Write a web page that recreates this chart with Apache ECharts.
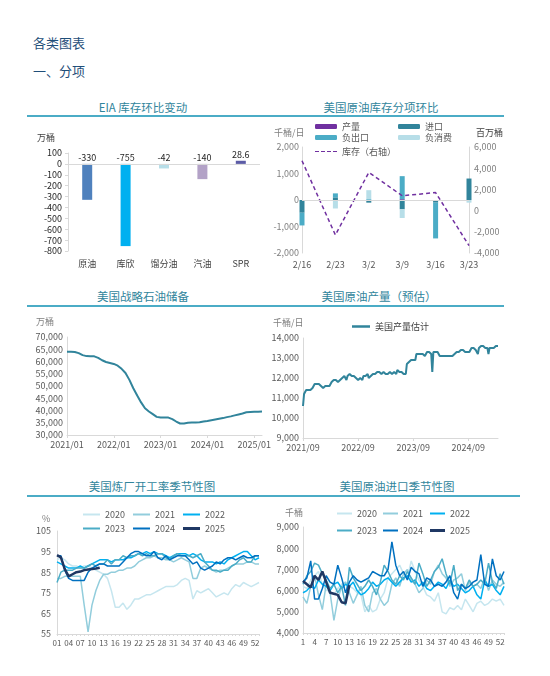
<!DOCTYPE html>
<html><head><meta charset="utf-8">
<script src="https://cdn.jsdelivr.net/npm/echarts@6/dist/echarts.min.js"></script>
<style>
html,body{margin:0;padding:0;background:#fff;width:550px;height:676px;overflow:hidden;font-family:"Noto Sans CJK SC","Noto Sans",sans-serif;}
.h{position:absolute;left:33px;font-size:13px;line-height:13px;color:#1f4e79;}
.t{position:absolute;font-size:11.5px;line-height:12px;color:#31859c;transform:translateX(-50%);white-space:nowrap;}
.u{position:absolute;height:2px;background:#4bacc6;}
.c{position:absolute;}
</style></head><body>
<div class="h" style="top:36px">各类图表</div>
<div class="h" style="top:64px">一、分项</div>

<div class="t" style="left:143px;top:101px">EIA 库存环比变动</div>
<div class="t" style="left:381px;top:101px">美国原油库存分项环比</div>
<div class="u" style="left:27px;top:115px;width:477px"></div>

<div class="t" style="left:143px;top:290px">美国战略石油储备</div>
<div class="t" style="left:379px;top:290px">美国原油产量（预估）</div>
<div class="u" style="left:27px;top:305px;width:477px"></div>

<div class="t" style="left:152px;top:480px">美国炼厂开工率季节性图</div>
<div class="t" style="left:397px;top:480px">美国原油进口季节性图</div>
<div class="u" style="left:27px;top:495px;width:493px"></div>

<div id="c1" class="c" style="left:0;top:120px;width:275px;height:160px"></div>
<div id="c2" class="c" style="left:270px;top:120px;width:280px;height:160px"></div>
<div id="c3" class="c" style="left:0;top:310px;width:275px;height:150px"></div>
<div id="c4" class="c" style="left:270px;top:310px;width:280px;height:150px"></div>
<div id="c5" class="c" style="left:0;top:500px;width:275px;height:170px"></div>
<div id="c6" class="c" style="left:270px;top:500px;width:280px;height:170px"></div>

<script>
// ---------- DATA ----------
// 1. EIA 库存环比变动 (万桶)
const eiaCats = ['原油', '库欣', '馏分油', '汽油', 'SPR'];
const eiaVals = [-330, -755, -42, -140, 28.6];

// 2. 美国原油库存分项环比
const compDates = ['2/16', '2/23', '3/2', '3/9', '3/16', '3/23'];
const compProd = [0, 0, 0, 30, 0, 0];
const compImport = [-480, 100, -100, -350, -100, 810];
const compExport = [-480, 150, 30, 870, -1350, 0];
const compConsume = [0, -320, 340, -330, 0, -100];
const compStock = [4700, -2300, 3600, 1400, 1700, -3300];

// 3. 美国战略石油储备 (万桶), monthly 2021/01 - 2025/03
const sprStartYear = 2021;
const sprVals = [
  64000, 64000, 63900, 63400, 62600, 62200, 62100, 62100, 61500, 60500, 59800, 59400,
  59000, 58300, 57000, 55300, 52500, 49100, 46100, 43300, 40900, 39600, 38500, 37400,
  37100, 37100, 37100, 36500, 35500, 34700, 34700, 35000, 35100, 35100, 35200, 35500,
  35700, 36000, 36300, 36600, 36900, 37300, 37600, 38000, 38400, 38800, 39300, 39400,
  39500, 39500, 39600
];

// 4. 美国原油产量估计 (千桶/日), weekly from 2021/09
const prodStart = '2021-09-10';
const prodVals = [
  10600,11200,11300,11400,11300,11400,11500,11400,11500,11500,
  11600,11700,11700,11700,11800,11700,11700,11600,11500,11500,
  11600,11600,11600,11600,11600,11600,11700,11800,11800,11900,
  11900,11900,11900,11800,11900,11900,11900,12000,12000,12100,
  12000,11900,12100,12100,12200,12100,12100,12100,12100,12100,
  12000,12000,11900,11900,12000,11900,11900,12100,12100,12100,
  12100,12200,12000,12000,12100,12200,12200,12300,12200,12200,
  12300,12300,12300,12300,12200,12300,12300,12200,12200,12300,
  12200,12200,12300,12300,12200,12200,12300,12300,12200,12400,
  12300,12300,12200,12300,12200,12200,12300,12200,12700,12800,
  12800,12800,12900,12900,12900,12900,12900,13200,13200,13200,
  13200,13200,13200,13200,13200,13100,13100,13300,13200,13300,
  13300,13200,12300,13300,13300,13300,13300,13300,13200,13100,
  13100,13100,13100,13100,13100,13100,13100,13100,13100,13100,
  13100,13100,13200,13200,13200,13300,13300,13300,13400,13400,
  13300,13400,13400,13300,13300,13300,13200,13300,13400,13500,
  13500,13500,13500,13400,13400,13200,13500,13600,13600,13600,
  13600,13500,13500,13500,13500,13200,13500,13500,13500,13500,
  13500,13500,13600,13600,13600
];

// 5. 美国炼厂开工率季节性 (%)
const years = ['2020', '2021', '2022', '2023', '2024', '2025'];
const refWeeks = ['01','02','03','04','05','06','07','08','09','10','11','12','13','14','15','16','17','18','19','20','21','22','23','24','25','26','27','28','29','30','31','32','33','34','35','36','37','38','39','40','41','42','43','44','45','46','47','48','49','50','51','52','53'];
const ref2020 = [91,92,91,89,88,88,87,88,88,87,86,85,84,82,76,68,68,70,67,69,72,72,73,74,74,75,76,77,78,78,78,79,81,82,81,72,76,75,76,77,75,73,74,75,74,77,79,78,80,79,78,79,80];
const ref2021 = [82,82,83,83,83,83,83,69,56,69,76,81,84,84,85,85,86,86,87,87,88,90,91,92,92,93,92,92,91,91,90,91,92,91,90,82,82,87,88,87,86,85,86,86,87,88,89,89,89,90,90,89,89];
const ref2022 = [90,89,88,87,87,87,88,87,88,89,90,91,91,91,90,91,91,91,92,92,93,94,94,95,94,95,94,94,93,92,93,94,94,94,93,94,93,91,90,90,90,89,90,89,91,92,93,94,95,95,93,91,92];
const ref2023 = [80,85,86,86,86,87,87,87,88,89,88,89,89,91,89,91,91,93,92,93,93,94,93,94,93,93,94,94,92,91,93,94,93,93,93,92,93,94,90,88,86,86,85,86,86,88,89,91,92,90,90,93,93];
const ref2024 = [93,93,86,82,81,81,81,81,85,87,88,89,89,88,88,88,88,90,92,94,95,95,94,93,93,95,92,91,93,91,92,93,93,93,91,89,90,87,86,87,88,90,89,91,92,92,91,92,93,92,92,93,93];
const ref2025 = [93.3,92.2,86.5,83,84,85,85.3,86,86.3,86.5,86.8,87.2];

// 6. 美国原油进口季节性 (千桶)
const impWeeks = ['1','2','3','4','5','6','7','8','9','10','11','12','13','14','15','16','17','18','19','20','21','22','23','24','25','26','27','28','29','30','31','32','33','34','35','36','37','38','39','40','41','42','43','44','45','46','47','48','49','50','51','52','53'];
const imp2020 = [6200,6100,6500,6700,6900,6300,6000,6000,5800,6100,6300,6400,6200,6100,5900,5800,5000,5300,5000,5100,5600,5900,6600,6800,7000,7200,6800,6600,7400,6900,6500,6200,5800,5700,5500,5900,5000,4900,5200,5100,5300,5100,5600,5300,5000,5400,5500,5300,5400,5600,5500,5600,5300];
const imp2021 = [5700,5400,6200,6700,5800,5100,6300,5900,4600,5600,6200,6400,5900,5400,5800,6200,5300,5000,5900,6100,5600,5300,5500,6300,6600,6200,6800,7000,6500,6300,5900,6100,6500,6300,6900,7200,6800,6600,6200,6500,6600,6800,6000,6400,6200,6300,6100,6600,6000,6500,6300,6200,6400];
const imp2022 = [5900,6000,6200,6100,6500,6300,6200,6000,6300,6400,6100,6300,6200,6400,6000,5800,5900,6100,6400,6200,6300,6500,6600,6400,6200,6400,6600,6700,6400,6500,6200,6400,6100,6000,6200,6400,6300,6100,6500,6200,6300,6100,5900,6000,6200,5800,5600,6500,6200,6300,6000,5800,6200];
const imp2023 = [6300,6700,6900,7300,7200,6800,6500,6100,6300,5900,6200,5300,7100,6600,6300,6000,6200,6500,6200,5800,6400,7200,6900,6500,6300,6700,6500,6900,6600,6300,7300,6800,6200,6500,6900,7100,7500,6800,6300,7200,6000,6300,6100,6500,6200,6300,6500,6300,7300,6400,6100,6800,6300];
const imp2024 = [6400,6600,7400,5600,5600,6100,6700,6400,6300,7200,6600,5900,6400,6700,6500,6400,6500,6600,6900,6800,6700,6700,7000,8300,7200,6700,6900,6500,7100,6900,6800,6200,6600,6500,6200,6300,6200,6400,6700,5900,5600,6300,6100,6200,6400,6500,7700,6300,6200,7500,6700,6500,6900];
const imp2025 = [6450,6300,6150,6700,6500,6900,6400,5900,5850,5800,5450,5400,6250];

// ---------- STYLE ----------
const FONT = '"Noto Sans CJK SC","Noto Sans",sans-serif';
const eiaColors = ['#4f81bd', '#00b0f0', '#b7dee8', '#b3a2c7', '#5c5ca6'];
const yearColors = ['#c6e6ef', '#92cddc', '#00b0f0', '#4bacc6', '#0070c0', '#1f3864'];
const yearWidths = [1.5, 1.5, 1.5, 1.5, 1.5, 2.5];
const AX = '#d9d9d9';
const fmt = v => Number(v).toLocaleString('en-US');
const DASH_ICON = 'path://M0,0h4v1h-4zM6,0h4v1h-4zM12,0h4v1h-4zM18,0h4v1h-4z';

function mk(id, opt) {
  const c = echarts.init(document.getElementById(id), null, { renderer: 'canvas' });
  opt.animation = false;
  opt.textStyle = { fontFamily: FONT };
  c.setOption(opt);
}
function gtext(txt, left, top, color) {
  return { type: 'text', left: left, top: top, style: { text: txt, fontSize: 9, fill: color || '#7f7f7f', fontFamily: FONT } };
}
function grid(l, r, t, b) {
  return { left: l, right: r, top: t, bottom: b, containLabel: false, outerBoundsMode: 'none' };
}
const zeroLine = { silent: true, symbol: 'none', label: { show: false }, lineStyle: { color: AX, type: 'solid', width: 1 }, data: [{ yAxis: 0 }] };

// ---------- Chart 1 ----------
mk('c1', {
  grid: grid(68, 15, 33, 29),
  graphic: [gtext('万桶', 37, 13, '#404040')],
  xAxis: {
    type: 'category', data: eiaCats,
    axisLine: { show: false, onZero: false },
    axisTick: { show: false },
    axisLabel: { margin: 8, fontSize: 9, color: '#404040' }
  },
  yAxis: {
    type: 'value', min: -800, max: 100, interval: 100,
    axisLine: { show: true, lineStyle: { color: AX } },
    axisTick: { show: true, length: 3, lineStyle: { color: AX } },
    splitLine: { show: false },
    axisLabel: { fontSize: 9, color: '#262626', margin: 6 }
  },
  series: [{
    type: 'bar', barWidth: 10,
    data: eiaVals.map((v, i) => ({ value: v, itemStyle: { color: eiaColors[i] } })),
    label: { show: true, position: 'top', distance: 2, fontSize: 9, color: '#262626' },
    markLine: zeroLine
  }]
});

// ---------- Chart 2 ----------
const barS = (name, data, color) => ({ name: name, type: 'bar', stack: 'a', barWidth: 5, data: data, itemStyle: { color: color } });
const legTxt = { fontSize: 9, color: '#595959' };
const s2 = [
  barS('产量', compProd, '#7030a0'),
  barS('进口', compImport, '#31849b'),
  barS('负出口', compExport, '#4bacc6'),
  barS('负消费', compConsume, '#b7dee8'),
  { name: '库存（右轴）', type: 'line', yAxisIndex: 1, data: compStock, symbol: 'none',
    itemStyle: { color: '#7030a0' }, lineStyle: { color: '#7030a0', width: 1.5, type: [4, 3] } }
];
s2[0].markLine = zeroLine;
mk('c2', {
  grid: grid(32, 81, 27, 27),
  legend: [
    { orient: 'vertical', left: 45, top: 2, padding: 0, itemWidth: 22, itemHeight: 5, itemGap: 2,
      data: ['产量', '负出口'], textStyle: legTxt },
    { orient: 'vertical', left: 128, top: 2, padding: 0, itemWidth: 22, itemHeight: 5, itemGap: 2,
      data: ['进口', '负消费'], textStyle: legTxt },
    { left: 45, top: 27, padding: 0, itemWidth: 22, itemHeight: 2,
      data: [{ name: '库存（右轴）', icon: DASH_ICON }], textStyle: legTxt }
  ],
  graphic: [gtext('千桶/日', 4, 8), gtext('百万桶', 206, 8, '#404040')],
  xAxis: {
    type: 'category', data: compDates, boundaryGap: false,
    axisLine: { show: false, onZero: false },
    axisTick: { show: false },
    axisLabel: { margin: 7, fontSize: 9, color: '#595959' }
  },
  yAxis: [
    { type: 'value', min: -2000, max: 2000, interval: 1000,
      axisLine: { show: true, lineStyle: { color: AX } }, axisTick: { show: false }, splitLine: { show: false },
      axisLabel: { formatter: fmt, fontSize: 9, color: '#7f7f7f', margin: 3 } },
    { type: 'value', min: -4000, max: 6000, interval: 2000, position: 'right',
      axisLine: { show: true, lineStyle: { color: AX } }, axisTick: { show: false }, splitLine: { show: false },
      axisLabel: { formatter: fmt, fontSize: 9, color: '#7f7f7f', margin: 5 } }
  ],
  series: s2
});

// ---------- Chart 3 ----------
const sprMonths = sprVals.map((v, i) => {
  const y = sprStartYear + Math.floor(i / 12), m = i % 12 + 1;
  return y + '/' + (m < 10 ? '0' + m : m);
});
mk('c3', {
  grid: grid(67, 13, 27, 25),
  graphic: [gtext('万桶', 36, 7)],
  xAxis: {
    type: 'category', data: sprMonths, boundaryGap: false,
    axisLine: { show: true, lineStyle: { color: AX } },
    axisTick: { show: true, interval: 11, length: 3, lineStyle: { color: AX } },
    axisLabel: { interval: 11, fontSize: 9, color: '#595959', margin: 5 }
  },
  yAxis: {
    type: 'value', min: 30000, max: 70000, interval: 5000,
    axisLine: { show: true, lineStyle: { color: AX } }, axisTick: { show: false }, splitLine: { show: false },
    axisLabel: { formatter: fmt, fontSize: 9, color: '#595959', margin: 4 }
  },
  series: [{ type: 'line', data: sprVals, symbol: 'none', lineStyle: { color: '#31849b', width: 2 } }]
});

// ---------- Chart 4 ----------
const p0 = new Date(prodStart + 'T00:00:00Z');
const prodDates = prodVals.map((v, i) => {
  const d = new Date(p0.getTime() + i * 7 * 86400000);
  const m = d.getUTCMonth() + 1;
  return d.getUTCFullYear() + '/' + (m < 10 ? '0' + m : m);
});
mk('c4', {
  grid: grid(33, 52, 28, 22),
  legend: { data: ['美国产量估计'], left: 82, top: 12, padding: 0, icon: 'rect', itemWidth: 18, itemHeight: 2.5,
    textStyle: { fontSize: 9, color: '#404040' } },
  graphic: [gtext('千桶/日', 3, 8)],
  xAxis: {
    type: 'category', data: prodDates, boundaryGap: false,
    axisLine: { show: true, lineStyle: { color: AX } },
    axisTick: { show: true, length: 3, interval: i => i % 52 === 0, lineStyle: { color: AX } },
    axisLabel: { interval: i => i % 52 === 0, fontSize: 9, color: '#595959', margin: 5 }
  },
  yAxis: {
    type: 'value', min: 9000, max: 14000, interval: 1000,
    axisLine: { show: true, lineStyle: { color: AX } }, axisTick: { show: false }, splitLine: { show: false },
    axisLabel: { formatter: fmt, fontSize: 9, color: '#595959', margin: 4 }
  },
  series: [{ name: '美国产量估计', type: 'line', data: prodVals, symbol: 'none',
    itemStyle: { color: '#31849b' }, lineStyle: { color: '#31849b', width: 2 } }]
});

// ---------- Seasonal helpers ----------
function seasonLegends(xs, ys, iw) {
  return years.map((y, i) => ({
    data: [y], left: xs[i % 3], top: ys[Math.floor(i / 3)], padding: 0, icon: 'rect',
    itemWidth: iw, itemHeight: yearWidths[i] + 0.5,
    textStyle: { fontSize: 9, color: '#595959' }
  }));
}
function seasonSeries(arrs) {
  return arrs.map((d, i) => ({
    name: years[i], type: 'line', data: d, symbol: 'none',
    itemStyle: { color: yearColors[i] }, lineStyle: { color: yearColors[i], width: yearWidths[i] }
  }));
}

// ---------- Chart 5 ----------
mk('c5', {
  grid: grid(57, 16, 31, 36),
  legend: seasonLegends([83, 133, 183], [10, 24], 17),
  graphic: [gtext('%', 42, 14)],
  xAxis: {
    type: 'category', data: refWeeks, boundaryGap: false,
    axisLine: { show: true, lineStyle: { color: AX } },
    axisTick: { show: true, interval: 0, length: 2, lineStyle: { color: AX } },
    axisLabel: { interval: 2, fontSize: 8, color: '#595959', margin: 5 }
  },
  yAxis: {
    type: 'value', min: 55, max: 105, interval: 10,
    axisLine: { show: true, lineStyle: { color: AX } }, axisTick: { show: false }, splitLine: { show: false },
    axisLabel: { fontSize: 9, color: '#595959', margin: 6 }
  },
  series: seasonSeries([ref2020, ref2021, ref2022, ref2023, ref2024, ref2025])
});

// ---------- Chart 6 ----------
mk('c6', {
  grid: grid(33, 46, 27, 37),
  legend: seasonLegends([67, 113, 160], [9, 26], 15),
  graphic: [gtext('千桶', 15, 8)],
  xAxis: {
    type: 'category', data: impWeeks, boundaryGap: false,
    axisLine: { show: true, lineStyle: { color: AX } },
    axisTick: { show: true, interval: 0, length: 2, lineStyle: { color: AX } },
    axisLabel: { interval: 2, fontSize: 8, color: '#595959', margin: 5 }
  },
  yAxis: {
    type: 'value', min: 4000, max: 9000, interval: 1000,
    axisLine: { show: true, lineStyle: { color: AX } }, axisTick: { show: false }, splitLine: { show: false },
    axisLabel: { formatter: fmt, fontSize: 9, color: '#595959', margin: 4 }
  },
  series: seasonSeries([imp2020, imp2021, imp2022, imp2023, imp2024, imp2025])
});
</script>
</body></html>
